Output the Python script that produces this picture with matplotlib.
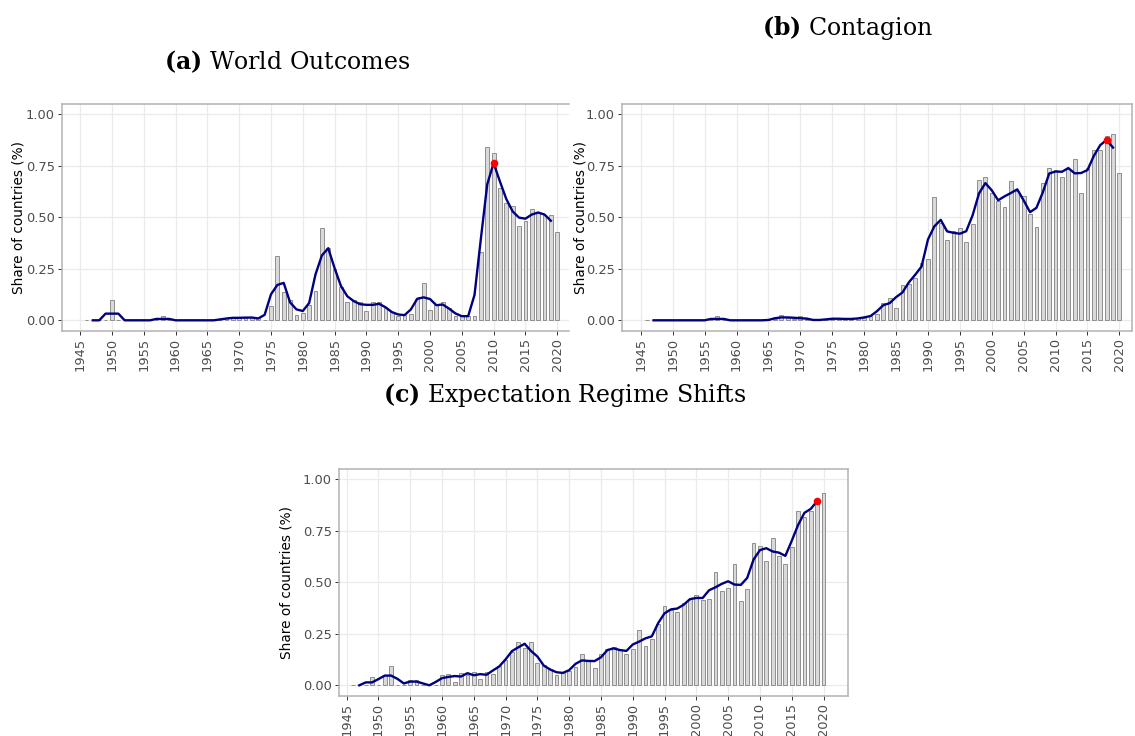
import numpy as np
import pandas as pd
import matplotlib
matplotlib.use("Agg")
import matplotlib.pyplot as plt

plt.rcParams['font.family'] = ['DejaVu Sans']
plt.rcParams['mathtext.fontset'] = 'dejavuserif'

years = list(range(1946, 2021))

world_outcomes = [
    0, 0, 0, 0, 0.097, 0, 0, 0, 0, 0,            # 1946-1955
    0, 0, 0.02, 0, 0, 0, 0, 0, 0, 0,              # 1956-1965
    0, 0, 0.013, 0.013, 0.01, 0.013, 0.016, 0.011, 0, 0.068,   # 1966-1975
    0.31, 0.137, 0.098, 0.027, 0.034, 0.074, 0.144, 0.45, 0.35, 0.25,  # 1976-1985
    0.16, 0.09, 0.10, 0.09, 0.045, 0.09, 0.09, 0.06, 0.04, 0.02,       # 1986-1995
    0.025, 0.03, 0.104, 0.18, 0.05, 0.08, 0.09, 0.06, 0.02, 0.02,      # 1996-2005
    0.02, 0.02, 0.33, 0.84, 0.81, 0.64, 0.57, 0.555, 0.46, 0.48,       # 2006-2015
    0.54, 0.52, 0.51, 0.51, 0.43,                                      # 2016-2020
]

contagion = [
    0, 0, 0, 0, 0, 0, 0, 0, 0, 0,                # 1946-1955
    0, 0.02, 0, 0, 0, 0, 0, 0, 0, 0,             # 1956-1965
    0.005, 0.025, 0.012, 0.005, 0.02, 0.005, 0, 0, 0.005, 0.008,       # 1966-1975
    0.01, 0.005, 0.005, 0.01, 0.012, 0.02, 0.03, 0.082, 0.108, 0.06,   # 1976-1985
    0.169, 0.176, 0.207, 0.28, 0.297, 0.6, 0.471, 0.392, 0.432, 0.45,  # 1986-1995
    0.379, 0.469, 0.682, 0.697, 0.619, 0.577, 0.552, 0.676, 0.626, 0.605,  # 1996-2005
    0.515, 0.455, 0.668, 0.74, 0.73, 0.697, 0.736, 0.784, 0.62, 0.741,     # 2006-2015
    0.827, 0.827, 0.897, 0.903, 0.715,                                     # 2016-2020
]

regime_shifts = [
    0, 0, 0, 0.042, 0, 0.048, 0.093, 0, 0, 0.027,                      # 1946-1955
    0.027, 0, 0, 0, 0.048, 0.056, 0.018, 0.06, 0.05, 0.066,            # 1956-1965
    0.03, 0.066, 0.057, 0.092, 0.125, 0.16, 0.212, 0.18, 0.212, 0.107,  # 1966-1975
    0.1, 0.08, 0.05, 0.06, 0.07, 0.09, 0.152, 0.12, 0.082, 0.15,       # 1976-1985
    0.175, 0.187, 0.175, 0.15, 0.175, 0.268, 0.192, 0.223, 0.297, 0.385,  # 1986-1995
    0.365, 0.354, 0.397, 0.42, 0.436, 0.414, 0.42, 0.548, 0.457, 0.47,    # 1996-2005
    0.586, 0.409, 0.465, 0.688, 0.675, 0.603, 0.716, 0.627, 0.586, 0.669, # 2006-2015
    0.845, 0.817, 0.846, 0.903, 0.93,                                     # 2016-2020
]

titles = [r'$\mathbf{(a)}$ World Outcomes',
          r'$\mathbf{(b)}$ Contagion',
          r'$\mathbf{(c)}$ Expectation Regime Shifts']
ylabel = 'Share of countries (%)'
xticks = list(range(1945, 2021, 5))
yticks = [0.0, 0.25, 0.5, 0.75, 1.0]
yticklabels = ['0.00', '0.25', '0.50', '0.75', '1.00']

W, H = 1135, 736
fig = plt.figure(figsize=(W / 100, H / 100), dpi=100)


def px_axes(left, top, right, bottom):
    return fig.add_axes([left / W, 1 - bottom / H, (right - left) / W, (bottom - top) / H])


panels = [
    dict(data=world_outcomes, box=(61.7, 104, 569.3, 330.6), xlim=(1942.1, 2021.9),
         title=titles[0], tpos=(287, 62), ylab_x=19, right=False),
    dict(data=contagion, box=(621.7, 104, 1131.5, 330.6), xlim=(1942.0, 2021.9),
         title=titles[1], tpos=(848, 28), ylab_x=580, right=True),
    dict(data=regime_shifts, box=(339.0, 468.7, 848.3, 695.6), xlim=(1943.8, 2023.9),
         title=titles[2], tpos=(565, 395), ylab_x=287, right=True),
]

grid_col = '#EBEBEB'
spine_col = '#B3B3B3'
tick_col = '#4D4D4D'

for p in panels:
    ax = px_axes(*p['box'])
    vals = pd.Series(p['data'], index=years, dtype=float)
    ma = vals.rolling(3, center=True).mean().dropna()

    ax.bar(vals.index, vals.values, width=0.6, color='#D9D9D9',
           edgecolor='#8F8F8F', linewidth=0.7, zorder=2)
    ax.plot(ma.index, ma.values, color='#000080', linewidth=1.7, zorder=3,
            solid_joinstyle='round')
    imax = ma.idxmax()
    ax.plot([imax], [ma[imax]], 'o', color='#FF0000', markersize=4.5, zorder=4)

    ax.set_xlim(*p['xlim'])
    ax.set_ylim(-0.05, 1.05)
    ax.set_xticks(xticks)
    ax.set_xticklabels([str(x) for x in xticks], rotation=90)
    ax.set_yticks(yticks)
    ax.set_yticklabels(yticklabels)
    ax.grid(True, color=grid_col, linewidth=0.9, zorder=0)
    ax.set_axisbelow(True)
    ax.tick_params(axis='both', colors='#333333', labelcolor=tick_col,
                   labelsize=9.4, length=3, width=0.7, pad=2)
    for s in ['left', 'bottom', 'top', 'right']:
        ax.spines[s].set_color(spine_col)
        ax.spines[s].set_linewidth(1.1)
    ax.spines['right'].set_visible(p['right'])

    b = p['box']
    fig.text(p['ylab_x'] / W, 1 - ((b[1] + b[3]) / 2) / H, ylabel, rotation=90,
             ha='center', va='center', fontsize=9.8, color='black')
    fig.text(p['tpos'][0] / W, 1 - p['tpos'][1] / H, p['title'],
             ha='center', va='center', fontsize=17, family='DejaVu Serif')

fig.savefig('out.png', dpi=100)
